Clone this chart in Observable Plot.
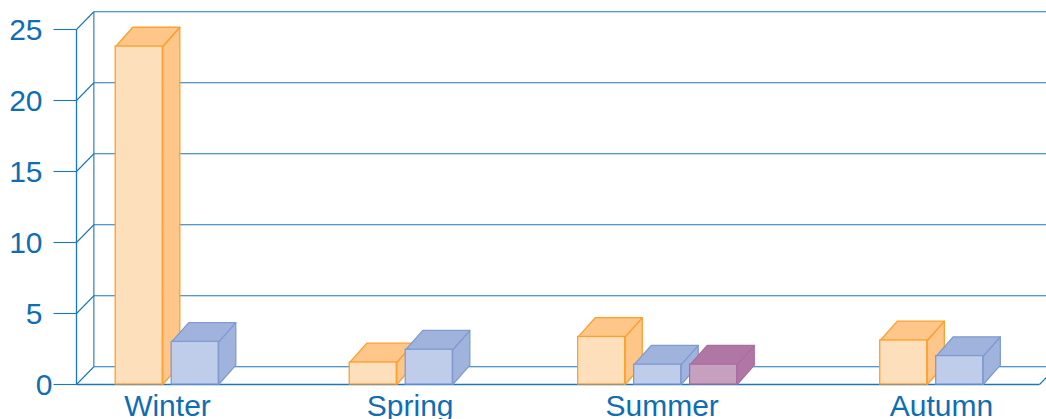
<!DOCTYPE html>
<html><head><meta charset="utf-8">
<style>html,body{margin:0;padding:0;background:#fff}svg{display:block}</style>
<script src="https://cdn.jsdelivr.net/npm/d3@7"></script>
<script src="https://cdn.jsdelivr.net/npm/@observablehq/plot@0.6"></script>
</head><body><script>
const seasons = ["Winter", "Spring", "Summer", "Autumn"];
const seasonStart = [0.7, 4.88, 8.96, 14.355];
const labelAt = [1.625, 5.96, 10.46, 15.45];
const seriesA = [23.8, 1.55, 3.35, 3.1];
const seriesB = [3.0, 2.45, 1.4, 2.0];
const seriesC = [null, null, 1.4, null];
const gridValues = [0, 5, 10, 15, 20, 25];

const xMax = 17.2, wallDX = 0.31, wallDY = 1.25, barW = 0.84, barDX = 0.305, barDY = 1.36, tickLen = 0.41;
const ink = "#0f6db3", line = "#1c76bb";
const styles = [
  {values: seriesA, front: "#fddfbc", shade: "#fec688", stroke: "#fd9f2f"},
  {values: seriesB, front: "#c0cdea", shade: "#a0b3dd", stroke: "#7f9bd0"},
  {values: seriesC, front: "#c7a0c0", shade: "#b077a4", stroke: "#ab6da0"}
];

const poly = (id, pts) => [...pts, pts[0]].map(([x, y]) => ({id, x, y}));
const barMarks = styles.flatMap((s, k) => {
  const bars = s.values.flatMap((v, i) => v == null ? [] : [{i, v, x0: seasonStart[i] + k, x1: seasonStart[i] + k + barW}]);
  const side = bars.flatMap(b => poly(b.i, [[b.x1, 0], [b.x1 + barDX, barDY], [b.x1 + barDX, b.v + barDY], [b.x1, b.v]]));
  const top = bars.flatMap(b => poly(b.i, [[b.x0, b.v], [b.x0 + barDX, b.v + barDY], [b.x1 + barDX, b.v + barDY], [b.x1, b.v]]));
  const o = {x: "x", y: "y", z: "id", stroke: s.stroke, strokeWidth: 1.3, fill: s.shade};
  return [
    Plot.line(side, o),
    Plot.line(top, o),
    Plot.rect(bars, {x1: "x0", x2: "x1", y1: () => 0, y2: "v", fill: s.front, stroke: s.stroke, strokeWidth: 1.3})
  ];
});

const chart = Plot.plot({
  width: 1046, height: 419,
  marginLeft: 76, marginRight: 7, marginTop: 29, marginBottom: 35,
  style: {fontFamily: "'Liberation Sans', Arial, sans-serif", background: "#fff", overflow: "hidden"},
  x: {domain: [0, xMax], axis: null},
  y: {domain: [0, 25], axis: null},
  marks: [
    Plot.link(gridValues, {x1: () => wallDX, x2: () => xMax + 1, y1: d => d + wallDY, y2: d => d + wallDY, stroke: line, strokeWidth: 1.1}),
    Plot.link(gridValues, {x1: () => 0, x2: () => wallDX, y1: d => d, y2: d => d + wallDY, stroke: line, strokeWidth: 1.1}),
    Plot.link(gridValues, {x1: () => -tickLen, x2: () => 0, y1: d => d, y2: d => d, stroke: line, strokeWidth: 1.1}),
    Plot.link([xMax], {x1: d => d, x2: d => d + wallDX, y1: () => 0, y2: () => wallDY, stroke: line, strokeWidth: 1.1}),
    Plot.link([0], {x1: () => 0, x2: () => xMax, y1: () => 0, y2: () => 0, stroke: line, strokeWidth: 1.3}),
    Plot.link([0], {x1: () => 0, x2: () => 0, y1: () => 0, y2: () => 25, stroke: line, strokeWidth: 1.3}),
    Plot.link([0], {x1: () => wallDX, x2: () => wallDX, y1: () => wallDY, y2: () => 25 + wallDY, stroke: line, strokeWidth: 1.1}),
    ...barMarks,
    Plot.axisY({ticks: [5, 10, 15, 20, 25], tickSize: 0, tickPadding: 34, dy: 1, fontSize: 30, color: ink, label: null, tickFormat: d => d}),
    Plot.axisY({ticks: [0], tickSize: 0, tickPadding: 24, dy: 1, fontSize: 30, color: ink, label: null, tickFormat: d => d}),
    Plot.axisX({ticks: labelAt, tickSize: 0, tickPadding: 10, fontSize: 30, color: ink, label: null, tickFormat: (d, i) => seasons[i]})
  ]
});
document.body.appendChild(chart);
</script></body></html>
